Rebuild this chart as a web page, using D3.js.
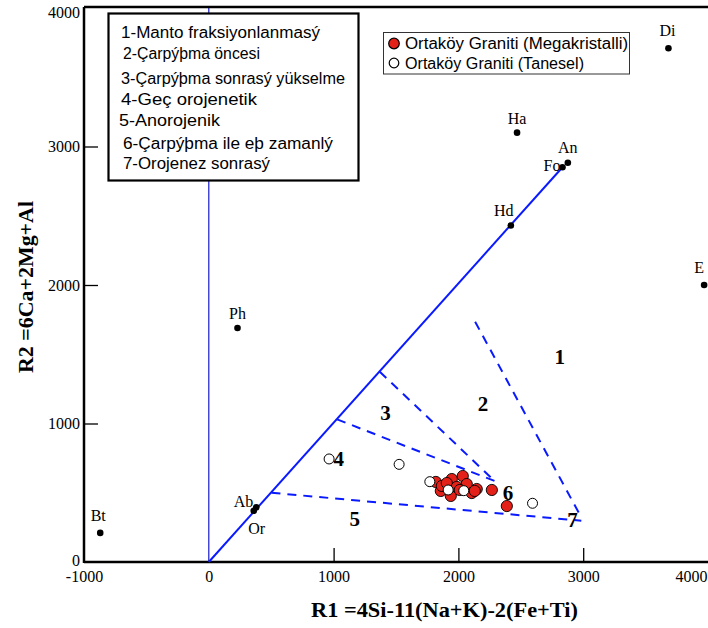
<!DOCTYPE html>
<html>
<head>
<meta charset="utf-8">
<script src="https://cdn.jsdelivr.net/npm/d3@7"></script>
<style>
  html, body { margin: 0; padding: 0; background: #fff; }
  svg { display: block; }
</style>
</head>
<body>
<svg id="chart" width="708" height="628"></svg>
<script>
// Batchelor & Bowden R1-R2 diagram

// axis ticks
const xTicks = [-1000, 0, 1000, 2000, 3000, 4000];
const yTicks = [0, 1000, 2000, 3000, 4000];

// reference minerals [name, R1, R2]
const minerals = [
  ["Bt", -870, 210],
  ["Ph", 230, 1690],
  ["Ab", 380, 395],
  ["Or", 360, 370],
  ["Hd", 2420, 2430],
  ["Fo", 2834, 2850],
  ["An", 2877, 2883],
  ["Ha", 2470, 3100],
  ["Di", 3683, 3709],
  ["E", 3969, 2000]
];

// Ortaköy Graniti (Megakristalli) [R1, R2]
const megakristalli = [
  [1819, 578], [1859, 513], [1867, 549], [1939, 477], [1947, 599],
  [1907, 570], [2035, 621], [2067, 563], [1987, 542], [2107, 498],
  [2147, 527], [2131, 513], [2268, 520], [2388, 404], [2011, 520]
];

// Ortaköy Graniti (Tanesel) [R1, R2]
const tanesel = [
  [964, 744], [1525, 705], [1771, 580], [1918, 520], [2043, 515], [2594, 424]
];

// mantle-fractionate trend line (origin to Fo)
const trendLine = [[0, 0], [2834, 2850]];

// field boundaries (dashed)
const boundaries = [
  [[2134, 1735], [2967, 352]],
  [[1370, 1374], [2290, 585]],
  [[1028, 1030], [2290, 585]],
  [[502, 500], [2985, 298]]
];

// field numbers [label, R1, R2]
const fieldLabels = [
  ["1", 2812, 1482], ["2", 2198, 1141], ["3", 1416, 1079], ["4", 1041, 748],
  ["5", 1170, 315], ["6", 2398, 500], ["7", 2914, 303]
];

// field names
const fieldNames = [
  "1-Manto fraksiyonlanmasý",
  "2-Çarpýþma öncesi",
  "3-Çarpýþma sonrasý yükselme",
  "4-Geç orojenetik",
  "5-Anorojenik",
  "6-Çarpýþma ile eþ zamanlý",
  "7-Orojenez sonrasý"
];

const seriesNames = ["Ortaköy Graniti (Megakristalli)", "Ortaköy Graniti (Tanesel)"];

const xTitle = "R1 =4Si-11(Na+K)-2(Fe+Ti)";
const yTitle = "R2 =6Ca+2Mg+Al";

// ---------------------------------------------------------------
const svg = d3.select("#chart");
svg.append("rect").attr("width", 708).attr("height", 628).attr("fill", "#fff");

const x = d3.scaleLinear().domain([-1000, 4000]).range([84, 708]);
const y = d3.scaleLinear().domain([0, 4000]).range([562, 8]);

const serif = "'Liberation Serif', 'Times New Roman', serif";
const sans = "'Liberation Sans', Arial, sans-serif";
const plain = d => String(d);

// vertical reference at R1 = 0
svg.append("line")
  .attr("x1", x(0)).attr("x2", x(0))
  .attr("y1", y(0)).attr("y2", y(4000))
  .attr("stroke", "#1a1acc").attr("stroke-width", 1.2);

// axes
const xAxis = svg.append("g")
  .attr("transform", `translate(0,${y(0)})`)
  .call(d3.axisBottom(x).tickValues(xTicks).tickFormat(plain)
    .tickSizeInner(-14).tickSizeOuter(0).tickPadding(9));
xAxis.select(".domain").remove();
xAxis.selectAll(".tick line")
  .attr("stroke", "#000").attr("stroke-width", 1.3)
  .attr("display", d => (d === -1000 || d === 0 || d === 4000) ? "none" : null);
xAxis.selectAll(".tick text")
  .attr("font-family", serif).attr("font-size", 16).attr("fill", "#000")
  .attr("text-anchor", d => d === 4000 ? "end" : "middle")
  .attr("dx", d => d === 4000 ? -1 : 0);

const yAxis = svg.append("g")
  .attr("transform", `translate(${x(-1000)},0)`)
  .call(d3.axisLeft(y).tickValues(yTicks).tickFormat(plain)
    .tickSizeInner(-14).tickSizeOuter(0).tickPadding(4));
yAxis.select(".domain").remove();
yAxis.selectAll(".tick line")
  .attr("stroke", "#000").attr("stroke-width", 1.3)
  .attr("display", d => (d === 0 || d === 4000) ? "none" : null);
yAxis.selectAll(".tick text")
  .attr("font-family", serif).attr("font-size", 16).attr("fill", "#000")
  .attr("dy", d => d === 4000 ? "0.62em" : (d === 0 ? "0.2em" : "0.32em"));

// frame
const frame = svg.append("g").attr("stroke", "#000").attr("stroke-width", 2.5).attr("fill", "none");
frame.append("line").attr("x1", x(-1000)).attr("x2", x(-1000)).attr("y1", y(4000) - 1).attr("y2", y(0) + 1);
frame.append("line").attr("x1", x(-1000)).attr("x2", x(4000)).attr("y1", y(0)).attr("y2", y(0));
frame.append("line").attr("x1", x(-1000)).attr("x2", x(4000)).attr("y1", y(4000) - 1).attr("y2", y(4000) - 1);

// axis titles
svg.append("text")
  .attr("x", 311).attr("y", 617)
  .attr("font-family", serif).attr("font-weight", "bold").attr("font-size", 21)
  .attr("textLength", 267).attr("lengthAdjust", "spacingAndGlyphs")
  .text(xTitle);
svg.append("text")
  .attr("transform", "translate(33,373) rotate(-90)")
  .attr("font-family", serif).attr("font-weight", "bold").attr("font-size", 22)
  .attr("textLength", 172).attr("lengthAdjust", "spacingAndGlyphs")
  .text(yTitle);

// trend line and field boundaries
const line = d3.line().x(d => x(d[0])).y(d => y(d[1]));
svg.append("path").datum(trendLine).attr("d", line)
  .attr("stroke", "#0a1aff").attr("stroke-width", 2).attr("fill", "none");
svg.append("g").selectAll("path").data(boundaries).join("path")
  .attr("d", line)
  .attr("stroke", "#0a1aff").attr("stroke-width", 2).attr("fill", "none")
  .attr("stroke-dasharray", "9,7");

// field numbers
svg.append("g").selectAll("text").data(fieldLabels).join("text")
  .attr("x", d => x(d[1])).attr("y", d => y(d[2]))
  .attr("dy", "0.35em")
  .attr("text-anchor", "middle")
  .attr("font-family", serif).attr("font-weight", "bold").attr("font-size", 21)
  .text(d => d[0]);

// mineral points
svg.append("g").selectAll("circle").data(minerals).join("circle")
  .attr("cx", d => x(d[1])).attr("cy", d => y(d[2])).attr("r", 3.3)
  .attr("fill", "#000");

// mineral label placement
const labelPlace = {
  Bt: { dx: -2, dy: -12, anchor: "middle" },
  Ph: { dx: 0, dy: -9, anchor: "middle" },
  Ab: { dx: -3, dy: 0, anchor: "end" },
  Or: { dx: 3, dy: 23, anchor: "middle" },
  Hd: { dx: -7, dy: -9, anchor: "middle" },
  Fo: { dx: -2, dy: 4, anchor: "end" },
  An: { dx: 0, dy: -10, anchor: "middle" },
  Ha: { dx: 0, dy: -9, anchor: "middle" },
  Di: { dx: -1, dy: -12, anchor: "middle" },
  E: { dx: -5, dy: -12, anchor: "middle" }
};
svg.append("g").selectAll("text").data(minerals).join("text")
  .attr("x", d => x(d[1]) + labelPlace[d[0]].dx)
  .attr("y", d => y(d[2]) + labelPlace[d[0]].dy)
  .attr("text-anchor", d => labelPlace[d[0]].anchor)
  .attr("font-family", serif).attr("font-size", 16)
  .text(d => d[0]);

// samples
svg.append("g").selectAll("circle").data(megakristalli).join("circle")
  .attr("cx", d => x(d[0])).attr("cy", d => y(d[1])).attr("r", 5.6)
  .attr("fill", "#e32119").attr("stroke", "#000").attr("stroke-width", 0.9);
svg.append("g").selectAll("circle").data(tanesel).join("circle")
  .attr("cx", d => x(d[0])).attr("cy", d => y(d[1])).attr("r", 5)
  .attr("fill", "#fff").attr("stroke", "#000").attr("stroke-width", 1);

// field-name key
const key = svg.append("g");
key.append("rect")
  .attr("x", 108.5).attr("y", 13.5).attr("width", 250).attr("height", 167)
  .attr("fill", "#fff").attr("stroke", "#000").attr("stroke-width", 2.2);
const keyX = [121, 123, 121, 121, 119, 123, 123];
const keyW = [199, 137, 224, 136, 101, 210, 147];
key.selectAll("text").data(fieldNames).join("text")
  .attr("x", (d, i) => keyX[i])
  .attr("y", (d, i) => [38, 59, 84, 105, 126, 149, 169][i])
  .attr("font-family", sans).attr("font-size", 16)
  .attr("textLength", (d, i) => keyW[i]).attr("lengthAdjust", "spacingAndGlyphs")
  .text(d => d);

// series legend
const leg = svg.append("g");
leg.append("rect")
  .attr("x", 383.5).attr("y", 32.5).attr("width", 246).attr("height", 41.5)
  .attr("fill", "#fff").attr("stroke", "#333").attr("stroke-width", 1);
leg.append("circle").attr("cx", 394).attr("cy", 43.5).attr("r", 5.3)
  .attr("fill", "#e32119").attr("stroke", "#000").attr("stroke-width", 1.2);
leg.append("circle").attr("cx", 394).attr("cy", 63).attr("r", 4.8)
  .attr("fill", "#fff").attr("stroke", "#000").attr("stroke-width", 1.2);
leg.selectAll("text").data(seriesNames).join("text")
  .attr("x", 405)
  .attr("y", (d, i) => [49, 68.5][i])
  .attr("font-family", sans).attr("font-size", 16)
  .attr("textLength", (d, i) => [223, 179][i]).attr("lengthAdjust", "spacingAndGlyphs")
  .text(d => d);
</script>
</body>
</html>
